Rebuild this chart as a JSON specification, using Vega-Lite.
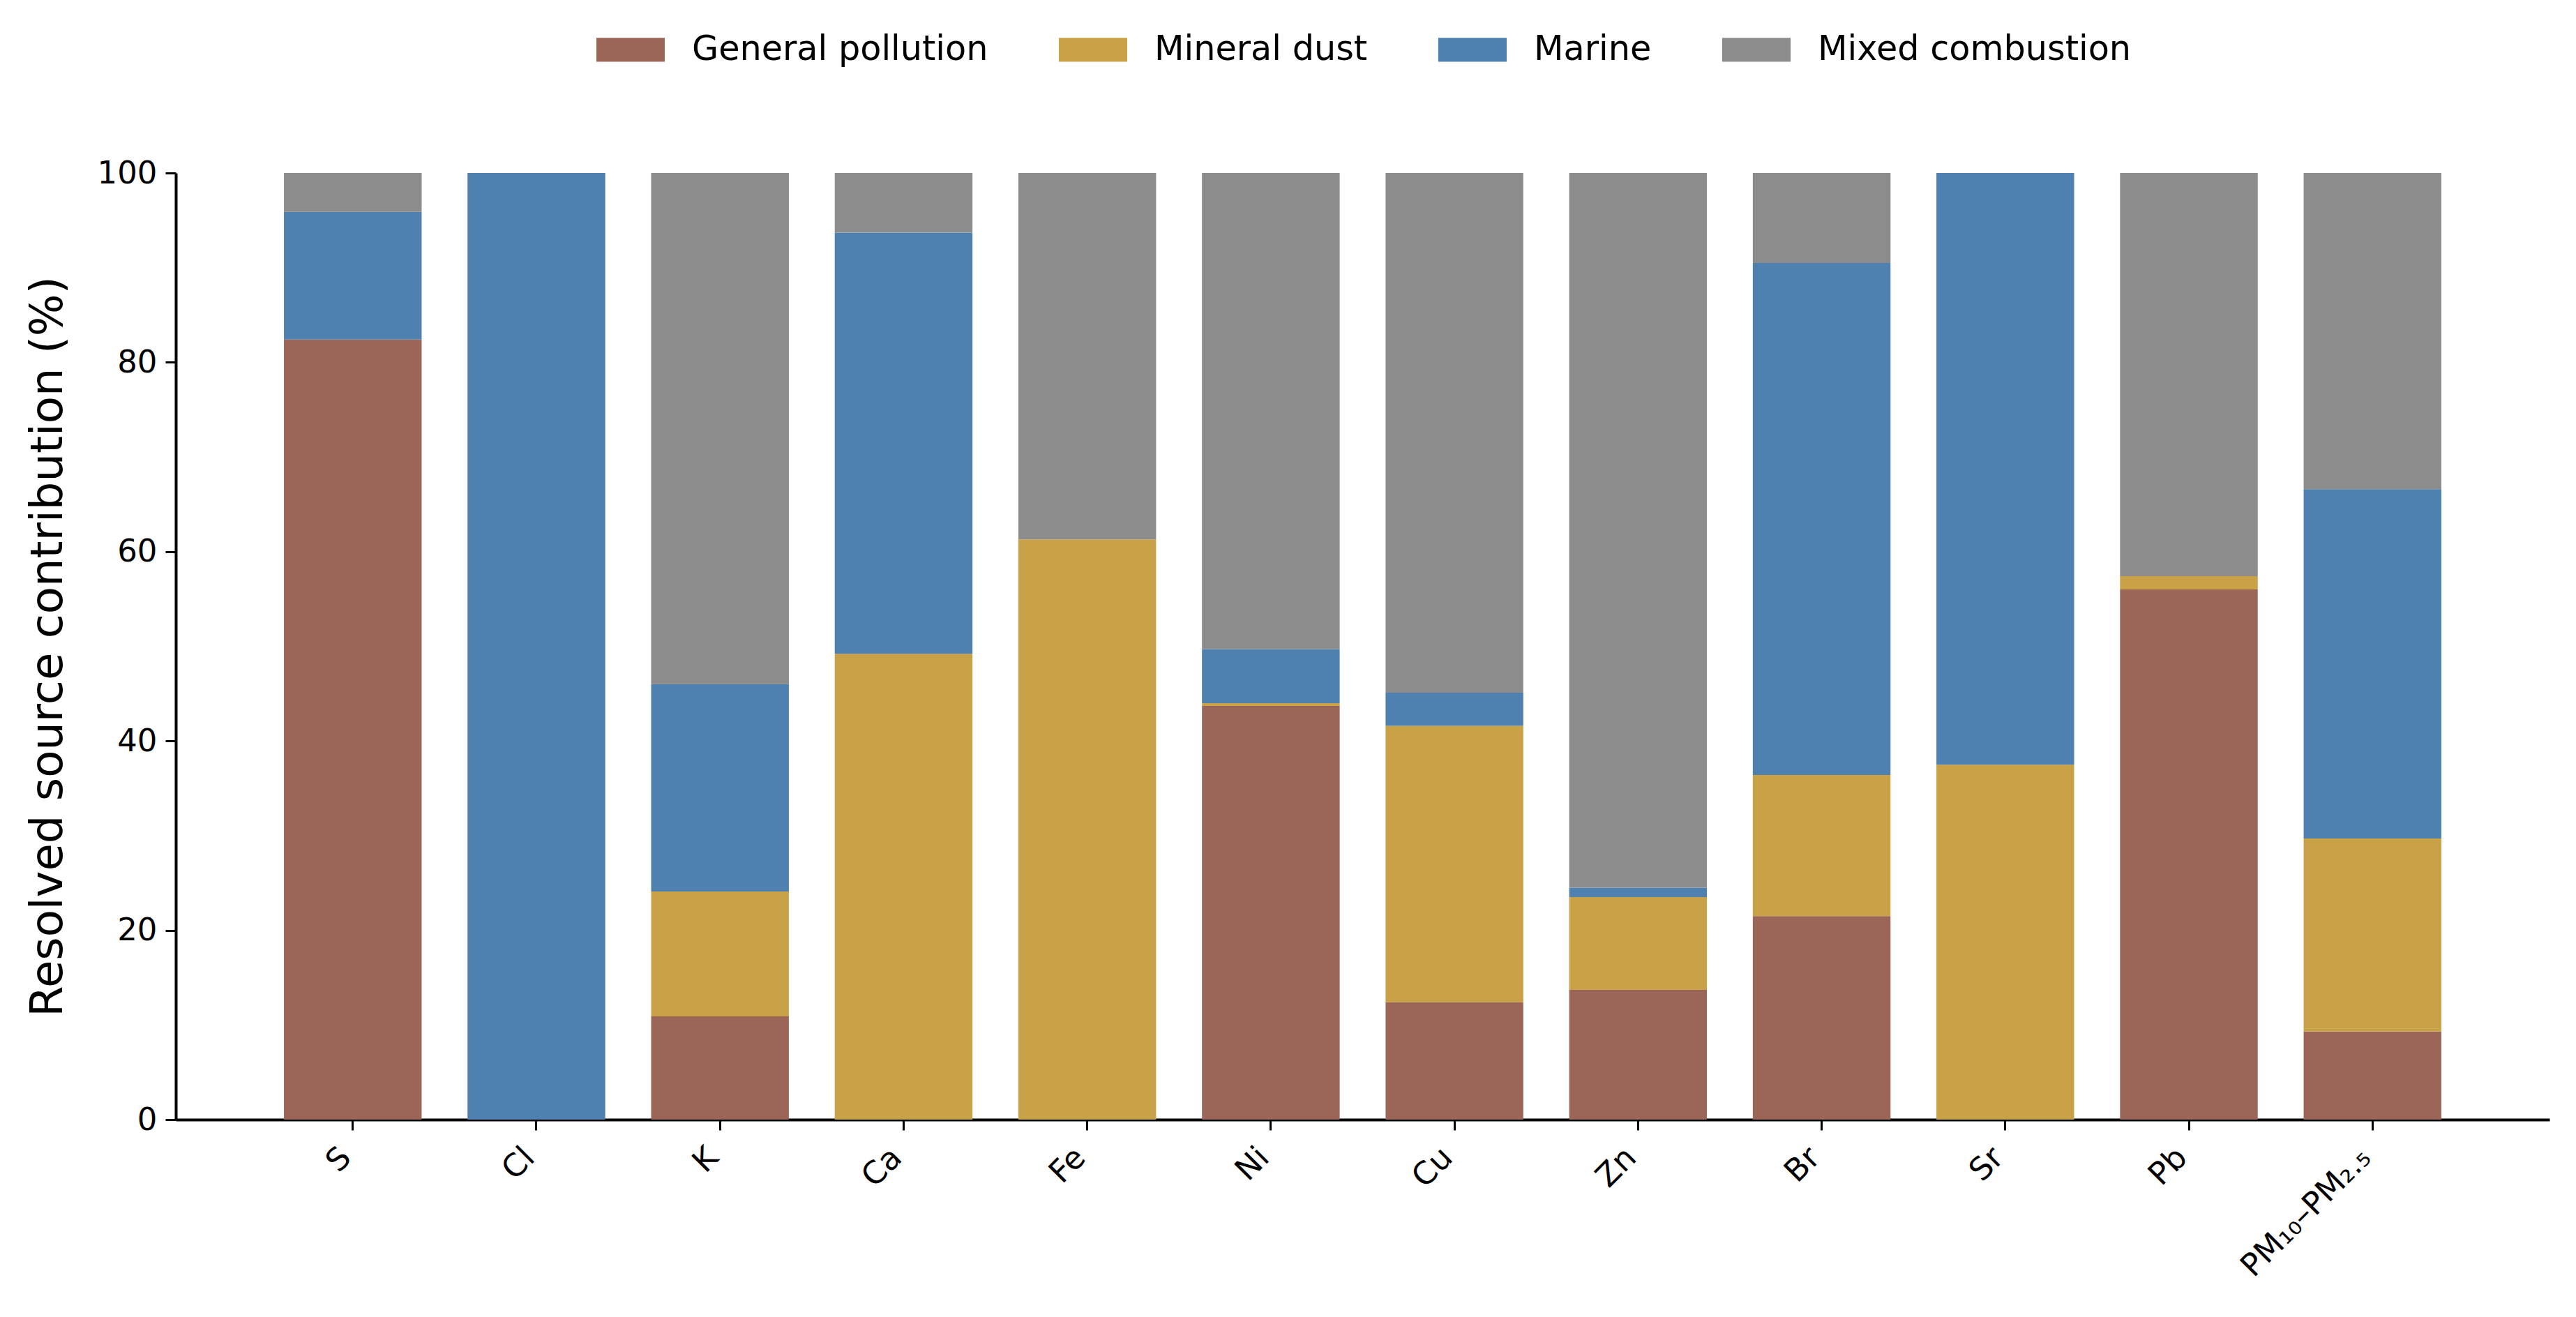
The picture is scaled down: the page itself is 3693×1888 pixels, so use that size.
{
  "$schema": "https://vega.github.io/schema/vega-lite/v6.json",
  "width": 3403,
  "height": 1357,
  "autosize": {"type": "none"},
  "padding": {"left": 252, "top": 248, "right": 38, "bottom": 283},
  "background": "white",
  "config": {
    "font": "DejaVu Sans",
    "view": {"stroke": null},
    "axis": {
      "domainColor": "black",
      "domainWidth": 4,
      "tickColor": "black",
      "tickWidth": 3,
      "tickSize": 15,
      "labelColor": "black",
      "labelFont": "DejaVu Sans",
      "labelFontSize": 45,
      "labelLimit": 0,
      "titleColor": "black",
      "titleFont": "DejaVu Sans",
      "titleFontWeight": "normal",
      "grid": false,
      "zindex": 1
    }
  },
  "data": {
    "values": [
      {"element": "S", "source": "General pollution", "value": 82.4},
      {"element": "S", "source": "Marine", "value": 13.5},
      {"element": "S", "source": "Mixed combustion", "value": 4.1},
      {"element": "Cl", "source": "Marine", "value": 100.0},
      {"element": "K", "source": "General pollution", "value": 10.9},
      {"element": "K", "source": "Mineral dust", "value": 13.2},
      {"element": "K", "source": "Marine", "value": 21.9},
      {"element": "K", "source": "Mixed combustion", "value": 54.0},
      {"element": "Ca", "source": "Mineral dust", "value": 49.2},
      {"element": "Ca", "source": "Marine", "value": 44.5},
      {"element": "Ca", "source": "Mixed combustion", "value": 6.3},
      {"element": "Fe", "source": "Mineral dust", "value": 61.3},
      {"element": "Fe", "source": "Mixed combustion", "value": 38.7},
      {"element": "Ni", "source": "General pollution", "value": 43.7},
      {"element": "Ni", "source": "Mineral dust", "value": 0.3},
      {"element": "Ni", "source": "Marine", "value": 5.7},
      {"element": "Ni", "source": "Mixed combustion", "value": 50.3},
      {"element": "Cu", "source": "General pollution", "value": 12.4},
      {"element": "Cu", "source": "Mineral dust", "value": 29.2},
      {"element": "Cu", "source": "Marine", "value": 3.5},
      {"element": "Cu", "source": "Mixed combustion", "value": 54.9},
      {"element": "Zn", "source": "General pollution", "value": 13.7},
      {"element": "Zn", "source": "Mineral dust", "value": 9.8},
      {"element": "Zn", "source": "Marine", "value": 1.0},
      {"element": "Zn", "source": "Mixed combustion", "value": 75.5},
      {"element": "Br", "source": "General pollution", "value": 21.5},
      {"element": "Br", "source": "Mineral dust", "value": 14.9},
      {"element": "Br", "source": "Marine", "value": 54.1},
      {"element": "Br", "source": "Mixed combustion", "value": 9.5},
      {"element": "Sr", "source": "Mineral dust", "value": 37.5},
      {"element": "Sr", "source": "Marine", "value": 62.5},
      {"element": "Pb", "source": "General pollution", "value": 56.0},
      {"element": "Pb", "source": "Mineral dust", "value": 1.4},
      {"element": "Pb", "source": "Mixed combustion", "value": 42.6},
      {"element": "PM₁₀–PM₂.₅", "source": "General pollution", "value": 9.3},
      {"element": "PM₁₀–PM₂.₅", "source": "Mineral dust", "value": 20.4},
      {"element": "PM₁₀–PM₂.₅", "source": "Marine", "value": 36.9},
      {"element": "PM₁₀–PM₂.₅", "source": "Mixed combustion", "value": 33.4}
    ]
  },
  "transform": [
    {"calculate": "indexof(['General pollution', 'Mineral dust', 'Marine', 'Mixed combustion'], datum.source)", "as": "stack_rank"}
  ],
  "mark": {"type": "bar"},
  "encoding": {
    "x": {
      "field": "element",
      "type": "nominal",
      "sort": ["S", "Cl", "K", "Ca", "Fe", "Ni", "Cu", "Zn", "Br", "Sr", "Pb", "PM₁₀–PM₂.₅"],
      "scale": {"paddingInner": 0.25, "paddingOuter": 0.589},
      "axis": {
        "title": null,
        "labelAngle": -45,
        "labelAlign": "right",
        "labelBaseline": "middle",
        "labelPadding": 32,
        "labelOffset": -10
      }
    },
    "y": {
      "field": "value",
      "type": "quantitative",
      "stack": "zero",
      "scale": {"domain": [0, 100], "nice": false},
      "axis": {
        "title": "Resolved source contribution (%)",
        "titleFontSize": 64,
        "titlePadding": 38,
        "values": [0, 20, 40, 60, 80, 100],
        "labelPadding": 12
      }
    },
    "color": {
      "field": "source",
      "type": "nominal",
      "scale": {
        "domain": ["General pollution", "Mineral dust", "Marine", "Mixed combustion"],
        "range": ["#9b6658", "#c9a147", "#4e80b0", "#8c8c8c"]
      },
      "legend": {
        "title": null,
        "orient": "none",
        "direction": "horizontal",
        "legendX": 603,
        "legendY": -226,
        "padding": 0,
        "symbolType": "M-1,-0.35H1V0.35H-1Z",
        "symbolSize": 9604,
        "symbolStrokeWidth": 0,
        "symbolOpacity": 1,
        "labelFont": "DejaVu Sans",
        "labelFontSize": 49.3,
        "labelColor": "black",
        "labelLimit": 0,
        "labelOffset": 39,
        "columnPadding": 101
      }
    },
    "order": {"field": "stack_rank", "type": "quantitative", "sort": "ascending"}
  }
}
